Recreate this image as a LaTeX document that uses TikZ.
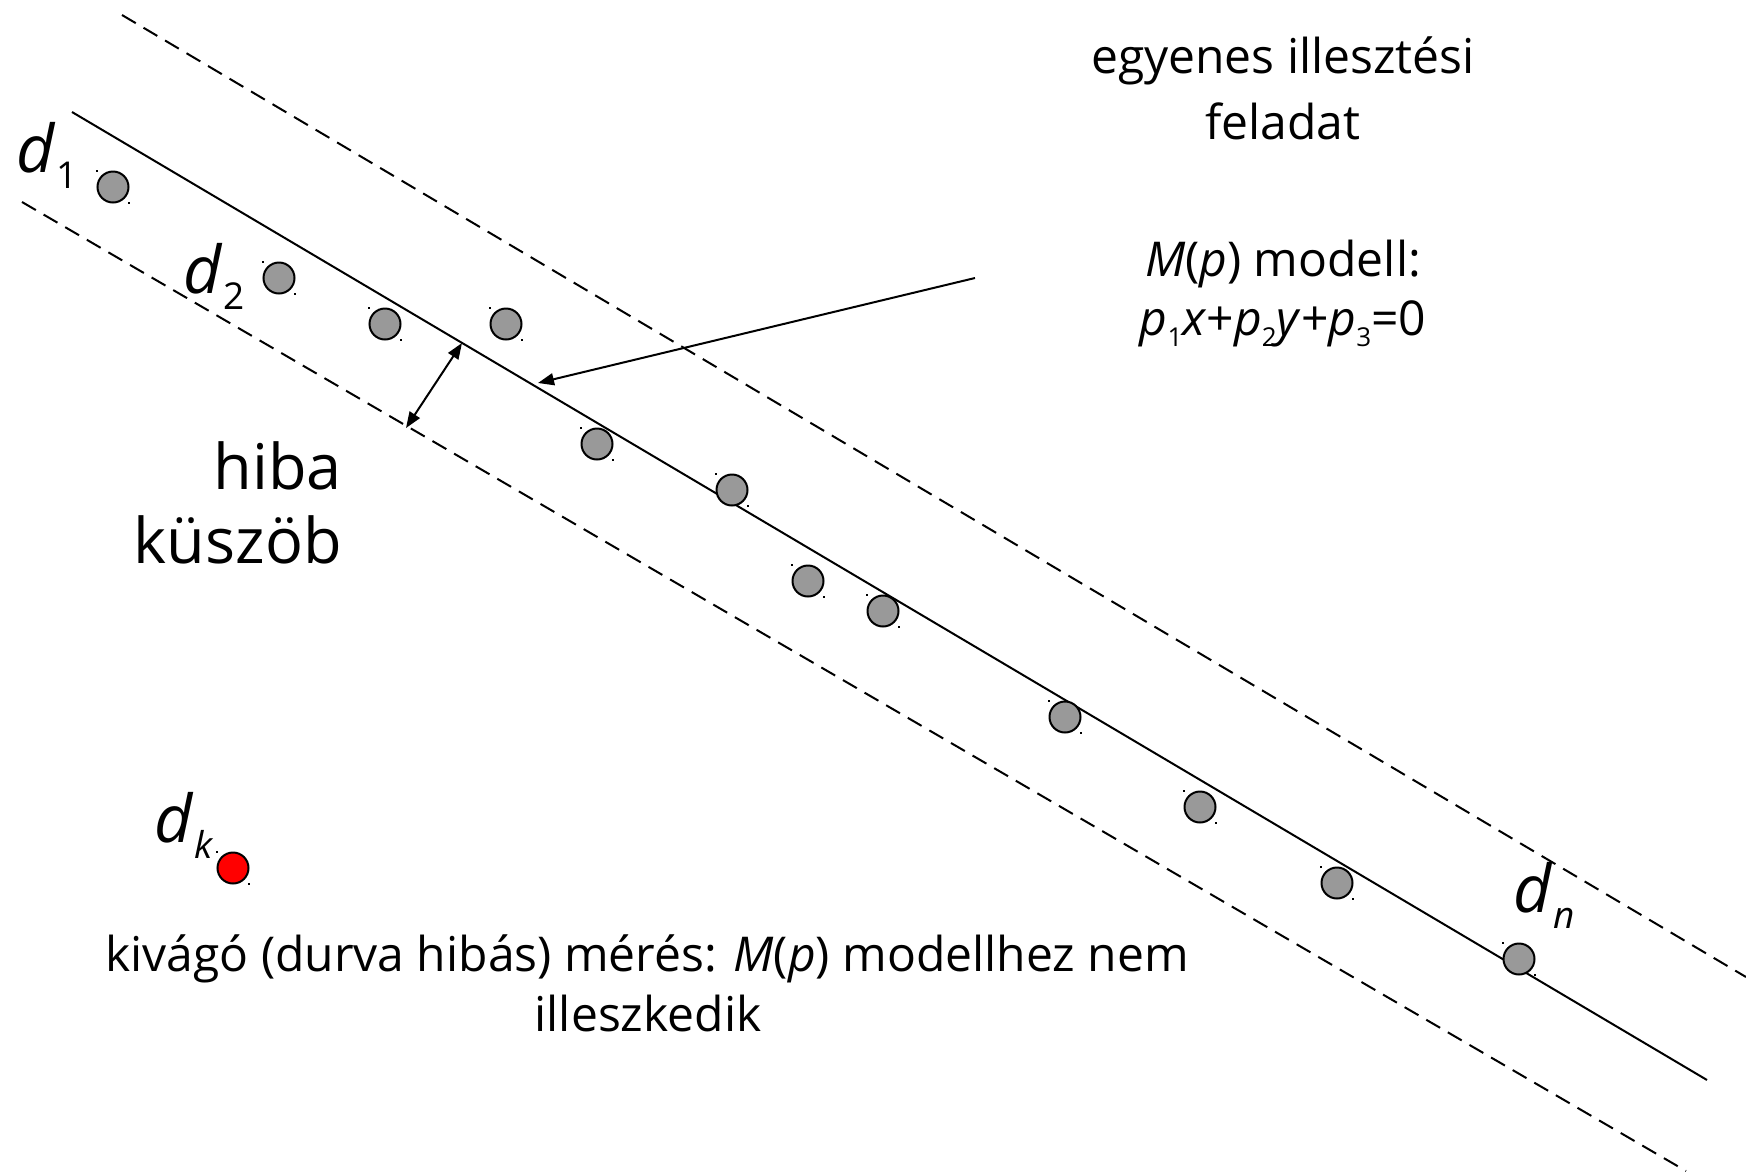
\documentclass[tikz,border=0pt]{standalone}
\usepackage{fontspec}
\setmainfont{Open Sans}
\usetikzlibrary{arrows.meta}
\definecolor{ptgray}{RGB}{153,153,153}
\newcommand{\dlab}[2]{\fontsize{66}{66}\selectfont\textit{d}\hspace{1pt}\raisebox{-16pt}{\fontsize{37}{37}\selectfont #2}}
\newcommand{\subx}[1]{\raisebox{-11pt}{\fontsize{26}{26}\selectfont #1}}
\begin{document}
\begin{tikzpicture}[x=1pt,y=-1pt,
  ptnode/.style={circle,draw=black,line width=2pt,fill=ptgray,minimum size=31pt,inner sep=0pt},
  outlier/.style={ptnode,fill=red},
  lbl/.style={anchor=base west,inner sep=0pt},
  txt/.style={anchor=base,inner sep=0pt,font=\fontsize{48}{48}\selectfont},
  bigtxt/.style={anchor=base east,inner sep=0pt,font=\fontsize{63}{63}\selectfont},
  solidline/.style={line width=2pt},
  dashline/.style={line width=2pt,dash pattern=on 16pt off 9pt},
  arr/.style={line width=2pt,-{Triangle[length=16pt,width=12pt]}},
  dblarr/.style={line width=2pt,{Triangle[length=16pt,width=12pt]}-{Triangle[length=16pt,width=12pt]}}
]
\useasboundingbox (0,0) rectangle (1746,1171);
% lines
\coordinate (tdA) at (122,15);
\coordinate (tdB) at (1746,977);
\coordinate (sA) at (72,112);
\coordinate (sB) at (1707,1080);
\coordinate (bdA) at (22,202);
\coordinate (bdB) at (1686,1171);
\draw[dashline] (tdA) -- (tdB);
\draw[solidline] (sA) -- (sB);
\draw[dashline] (bdA) -- (bdB);
% points
\node[ptnode] (p1) at (113,187) {};
\node[ptnode] (p2) at (279,278) {};
\node[ptnode] (p3) at (385,324) {};
\node[ptnode] (p4) at (506,324) {};
\node[ptnode] (p5) at (597,444) {};
\node[ptnode] (p6) at (732,490) {};
\node[ptnode] (p7) at (808,581) {};
\node[ptnode] (p8) at (883,611) {};
\node[ptnode] (p9) at (1065,717) {};
\node[ptnode] (p10) at (1200,807) {};
\node[ptnode] (p11) at (1337,883) {};
\node[ptnode] (pn) at (1519,959) {};
\node[outlier] (pk) at (233,868) {};
\foreach \n in {p1,p2,p3,p4,p5,p6,p7,p8,p9,p10,p11,pn,pk}{
  \fill ([shift={(-17,-17)}]\n.center) rectangle +(2,2);
  \fill ([shift={(15,15)}]\n.center) rectangle +(2,2);
}
% labels
\node[lbl] (l1) at (16,172) {\dlab{d}{1}};
\node[lbl] (l2) at (183,293) {\dlab{d}{2}};
\node[lbl] (lk) at (154,842) {\dlab{d}{\textit{k}}};
\node[lbl] (ln) at (1513,912) {\dlab{d}{\textit{n}}};
% arrows
\coordinate (aS) at (975,278);
\coordinate (aE) at (538,383);
\draw[arr] (aS) -- (aE);
\coordinate (dA) at (462,343);
\coordinate (dB) at (406,428);
\draw[dblarr] (dA) -- (dB);
% texts
\node[txt] (t1) at (1283,73) {egyenes illesztési};
\node[txt] (t2) at (1283,139) {feladat};
\node[txt] (m1) at (1283,276) {\textit{M}(\textit{p}) modell:};
\node[txt] (m2) at (1283,335) {\textit{p}\subx{1}\textit{x}+\textit{p}\subx{2}\textit{y}+\textit{p}\subx{3}=0};
\node[bigtxt] (h1) at (342,489) {hiba};
\node[bigtxt] (h2) at (342,563) {küszöb};
\node[txt] (b1) at (647,971) {kivágó (durva hibás) mérés: \textit{M}(\textit{p}) modellhez nem};
\node[txt] (b2) at (648,1031) {illeszkedik};
\end{tikzpicture}
\end{document}
